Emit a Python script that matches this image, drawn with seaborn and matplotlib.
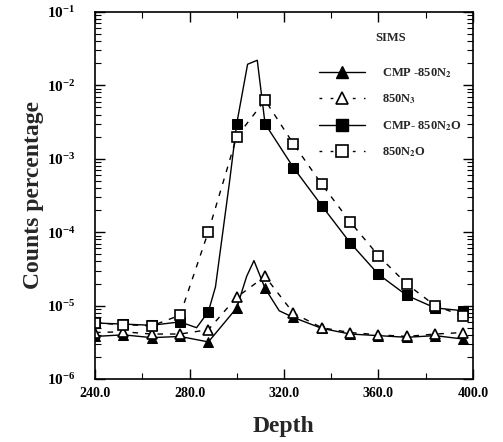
import numpy as np
import pandas as pd
import matplotlib
matplotlib.use("Agg")
import matplotlib.pyplot as plt
from matplotlib.lines import Line2D
from matplotlib.ticker import MultipleLocator, LogLocator, FixedLocator
import seaborn as sns

# ---- data ----
depth_12 = [240, 252, 264, 276, 288, 300, 312, 324, 336, 348, 360, 372, 384, 396]

# CMP-850N2O (solid line, filled squares) -- line includes unmarked shape points
cmp_n2o_depth = [240, 252, 264, 276, 283, 288, 291, 297, 300, 304.6, 308.7, 312,
                 324, 336, 348, 360, 372, 384, 396]
cmp_n2o_val = [5.8e-6, 5.6e-6, 5.4e-6, 6.0e-6, 5.0e-6, 8.3e-6, 1.8e-5, 5.0e-4, 3.0e-3,
               1.94e-2, 2.2e-2, 3.0e-3, 7.6e-4, 2.3e-4, 7.2e-5, 2.67e-5, 1.38e-5,
               9.3e-6, 8.5e-6]
cmp_n2o_marks = [0, 1, 2, 3, 5, 8, 11, 12, 13, 14, 15, 16, 17, 18]

# 850N2O (dashed line, open squares)
n2o_val = [5.8e-6, 5.5e-6, 5.3e-6, 7.4e-6, 1.02e-4, 2.0e-3, 6.3e-3, 1.6e-3, 4.5e-4,
           1.39e-4, 4.8e-5, 1.97e-5, 1.0e-5, 7.2e-6]

# CMP-850N2 (solid line, filled triangles)
cmp_n2_depth = [240, 252, 264, 276, 288, 300, 304.2, 307.3, 312, 318, 324, 336, 348,
                360, 372, 384, 396]
cmp_n2_val = [3.8e-6, 4.0e-6, 3.66e-6, 3.8e-6, 3.2e-6, 9.3e-6, 2.5e-5, 4.1e-5, 1.72e-5,
              8.5e-6, 6.9e-6, 4.9e-6, 4.1e-6, 3.9e-6, 3.7e-6, 3.9e-6, 3.5e-6]
cmp_n2_marks = [0, 1, 2, 3, 4, 5, 8, 10, 11, 12, 13, 14, 15, 16]

# 850N2 (dashed line, open triangles)
n2_val = [4.3e-6, 4.4e-6, 4.1e-6, 4.1e-6, 4.7e-6, 1.3e-5, 2.5e-5, 7.9e-6, 5.0e-6,
          4.3e-6, 4.0e-6, 3.8e-6, 4.1e-6, 4.3e-6]

legend_title = "SIMS"
legend_labels = [r"CMP -850N$_2$", r"850N$_3$", r"CMP- 850N$_2$O", r"850N$_2$O"]
x_ticks = [240, 280, 320, 360, 400]
x_tick_labels = ["240.0", "280.0", "320.0", "360.0", "400.0"]

# ---- style ----
sns.set_theme(style="ticks")
plt.rcParams["font.family"] = ["Liberation Serif", "DejaVu Serif"]
plt.rcParams["font.weight"] = "bold"
plt.rcParams["mathtext.fontset"] = "stix"
plt.rcParams["mathtext.default"] = "bf"

fig = plt.figure(figsize=(5.03, 4.42), dpi=100)
ax = fig.add_axes([0.189, 0.1425, 0.751, 0.8304])

lw = 1.0
ms_sq = 7
ms_tri = 7

sns.lineplot(x=cmp_n2_depth, y=cmp_n2_val, ax=ax, color="black", lw=lw,
             marker="^", markersize=ms_tri, markevery=cmp_n2_marks,
             markerfacecolor="black", markeredgecolor="black", sort=False)
sns.lineplot(x=depth_12, y=n2_val, ax=ax, color="black", lw=lw, linestyle=(0, (4, 5)),
             marker="^", markersize=ms_tri, markerfacecolor="white",
             markeredgecolor="black", markeredgewidth=1.2, sort=False)
sns.lineplot(x=cmp_n2o_depth, y=cmp_n2o_val, ax=ax, color="black", lw=lw,
             marker="s", markersize=ms_sq, markevery=cmp_n2o_marks,
             markerfacecolor="black", markeredgecolor="black", sort=False)
sns.lineplot(x=depth_12, y=n2o_val, ax=ax, color="black", lw=lw, linestyle=(0, (4, 5)),
             marker="s", markersize=ms_sq, markerfacecolor="white",
             markeredgecolor="black", markeredgewidth=1.2, sort=False)

ax.set_yscale("log")
ax.set_ylim(1e-6, 1e-1)
ax.set_xlim(240, 400)
ax.xaxis.set_major_locator(FixedLocator(x_ticks))
ax.set_xticklabels(x_tick_labels)
ax.xaxis.set_minor_locator(MultipleLocator(20))
ax.yaxis.set_minor_locator(LogLocator(base=10, subs=np.arange(2, 10)))

ax.tick_params(which="both", direction="in", top=True, right=True, colors="black")
ax.tick_params(which="major", length=7, width=1.0)
ax.tick_params(which="minor", length=4, width=0.8)
ax.tick_params(axis="x", labelsize=10, pad=6)
ax.tick_params(axis="y", labelsize=11, pad=14)
for lab in ax.get_xticklabels():
    lab.set_fontweight("bold")
for s in ax.spines.values():
    s.set_color("black")
    s.set_linewidth(1.2)

ax.set_xlabel("Depth", fontsize=17, fontweight="bold", labelpad=11)
ax.set_ylabel("Counts percentage", fontsize=17, fontweight="bold", labelpad=2)

handles = [
    Line2D([], [], color="black", lw=lw, marker="^", markersize=ms_tri + 1,
           markerfacecolor="black", markeredgecolor="black"),
    Line2D([], [], color="black", lw=lw, linestyle=(0, (2, 6)), marker="^",
           markersize=ms_tri + 1, markerfacecolor="white", markeredgecolor="black",
           markeredgewidth=1.2),
    Line2D([], [], color="black", lw=lw, marker="s", markersize=ms_sq + 1,
           markerfacecolor="black", markeredgecolor="black"),
    Line2D([], [], color="black", lw=lw, linestyle=(0, (2, 6)), marker="s",
           markersize=ms_sq + 1, markerfacecolor="white", markeredgecolor="black",
           markeredgewidth=1.2),
]
leg = ax.legend(handles, legend_labels, title=legend_title, loc="upper left",
                bbox_to_anchor=(0.593, 0.945), frameon=False, fontsize=9,
                title_fontproperties={"weight": "bold", "size": 9,
                                      "family": "Liberation Serif"},
                handlelength=3.7, handletextpad=1.3, labelspacing=1.0,
                borderpad=0, borderaxespad=0, numpoints=1)
leg._legend_box.sep = 16
for t in leg.get_texts():
    t.set_fontweight("bold")

fig.savefig("out.png", dpi=100)
